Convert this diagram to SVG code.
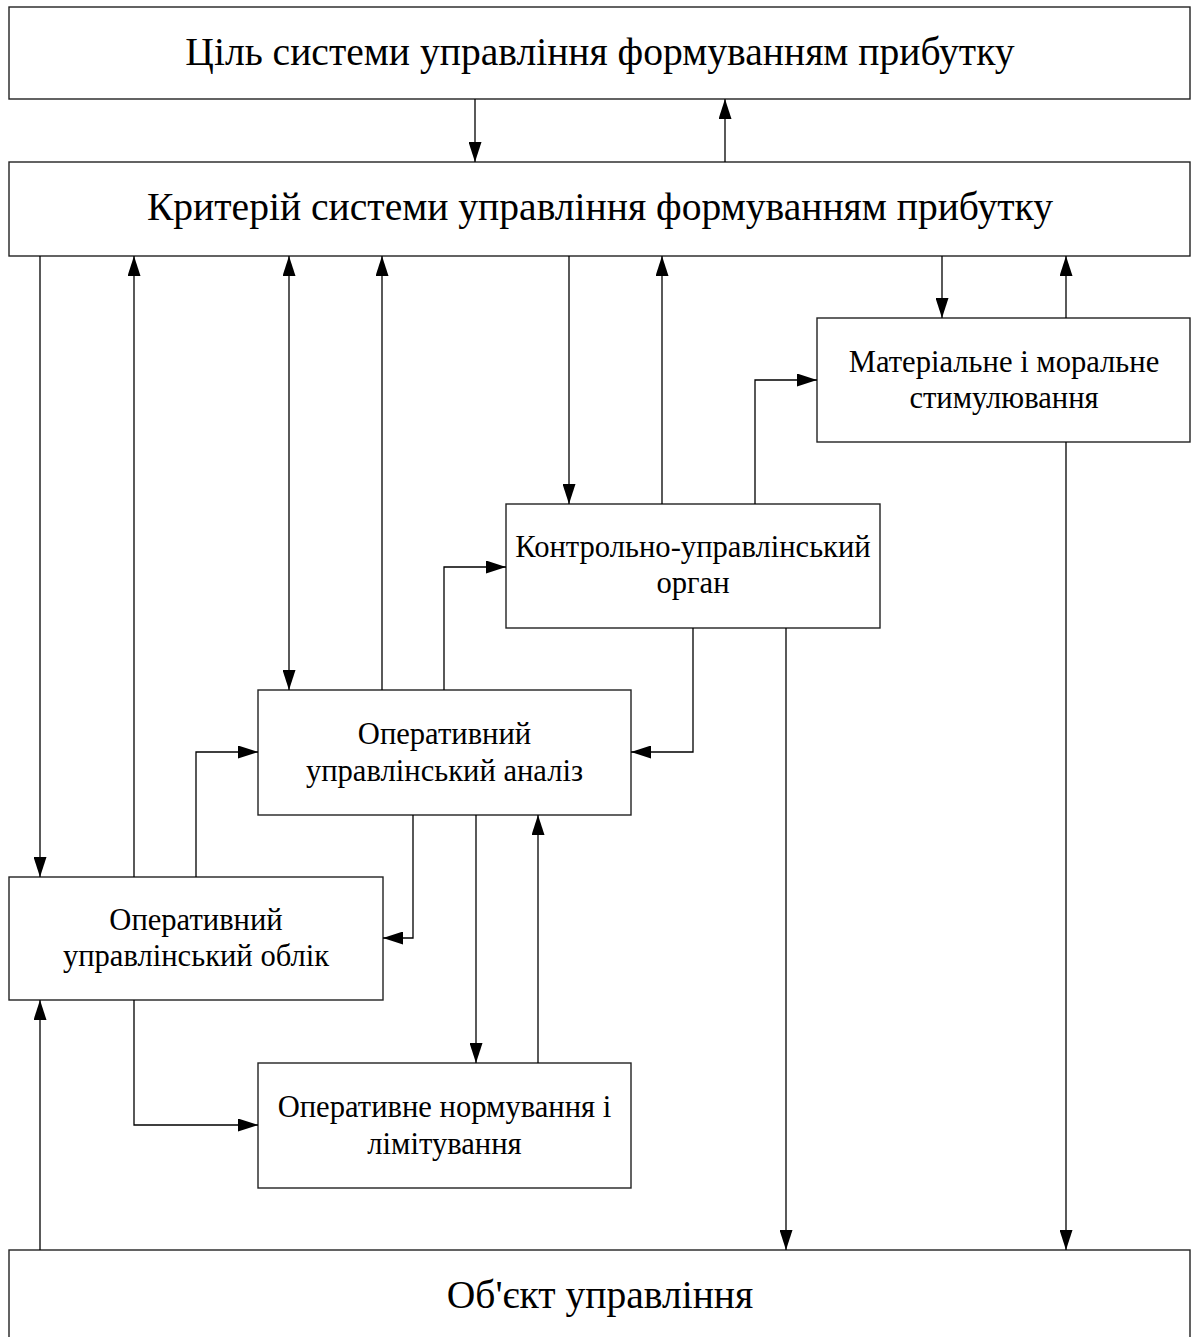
<svg xmlns="http://www.w3.org/2000/svg" width="1192" height="1337" viewBox="0 0 1192 1337">
<style>
.box{fill:#fff;stroke:#222;stroke-width:1.4}
.big{font-family:"Liberation Serif","Times New Roman",serif;font-size:39.6px;fill:#000;text-anchor:middle}
.mid{font-family:"Liberation Serif","Times New Roman",serif;font-size:30.6px;fill:#000;text-anchor:middle}
.c{fill:none;stroke:#000;stroke-width:1.3}
</style>
<defs>
<marker id="ah" markerUnits="userSpaceOnUse" markerWidth="20" markerHeight="13" refX="20" refY="6.5" orient="auto-start-reverse">
<path d="M0,0 L20,6.5 L0,13 Z" fill="#000"/>
</marker>
</defs>
<rect width="1192" height="1337" fill="#fff"/>
<g id="goal"><rect class="box" x="9" y="7" width="1181" height="92"/><text class="big" x="600" y="65">Ціль системи управління формуванням прибутку</text></g>
<g id="criterion"><rect class="box" x="9" y="162" width="1181" height="94"/><text class="big" x="600" y="220">Критерій системи управління формуванням прибутку</text></g>
<g id="stimulation"><rect class="box" x="817" y="318" width="373" height="124"/><text class="mid" x="1004" y="372">Матеріальне і моральне</text><text class="mid" x="1004" y="408">стимулювання</text></g>
<g id="control"><rect class="box" x="506" y="504" width="374" height="124"/><text class="mid" x="693" y="557">Контрольно-управлінський</text><text class="mid" x="693" y="593">орган</text></g>
<g id="analysis"><rect class="box" x="258" y="690" width="373" height="125"/><text class="mid" x="444.5" y="744">Оперативний</text><text class="mid" x="444.5" y="781">управлінський аналіз</text></g>
<g id="accounting"><rect class="box" x="9" y="877" width="374" height="123"/><text class="mid" x="196" y="930">Оперативний</text><text class="mid" x="196" y="966">управлінський облік</text></g>
<g id="norming"><rect class="box" x="258" y="1063" width="373" height="125"/><text class="mid" x="444.5" y="1117">Оперативне нормування і</text><text class="mid" x="444.5" y="1154">лімітування</text></g>
<g id="object"><rect class="box" x="9" y="1250" width="1181" height="100"/><text class="big" x="600" y="1308">Об'єкт управління</text></g>
<g id="connectors">
<path class="c" d="M475,99 V162" marker-end="url(#ah)"/>
<path class="c" d="M725,162 V99" marker-end="url(#ah)"/>
<path class="c" d="M40,256 V877" marker-end="url(#ah)"/>
<path class="c" d="M134,877 V256" marker-end="url(#ah)"/>
<path class="c" d="M289,256 V690" marker-start="url(#ah)" marker-end="url(#ah)"/>
<path class="c" d="M382,690 V256" marker-end="url(#ah)"/>
<path class="c" d="M569,256 V504" marker-end="url(#ah)"/>
<path class="c" d="M662,504 V256" marker-end="url(#ah)"/>
<path class="c" d="M942,256 V318" marker-end="url(#ah)"/>
<path class="c" d="M1066,318 V256" marker-end="url(#ah)"/>
<path class="c" d="M755,504 V380 H817" marker-end="url(#ah)"/>
<path class="c" d="M444,690 V567 H506" marker-end="url(#ah)"/>
<path class="c" d="M693,628 V752 H631" marker-end="url(#ah)"/>
<path class="c" d="M786,628 V1250" marker-end="url(#ah)"/>
<path class="c" d="M1066,442 V1250" marker-end="url(#ah)"/>
<path class="c" d="M196,877 V752 H258" marker-end="url(#ah)"/>
<path class="c" d="M413,815 V938 H383" marker-end="url(#ah)"/>
<path class="c" d="M476,815 V1063" marker-end="url(#ah)"/>
<path class="c" d="M538,1063 V815" marker-end="url(#ah)"/>
<path class="c" d="M134,1000 V1125 H258" marker-end="url(#ah)"/>
<path class="c" d="M40,1250 V1000" marker-end="url(#ah)"/>
</g>
</svg>
